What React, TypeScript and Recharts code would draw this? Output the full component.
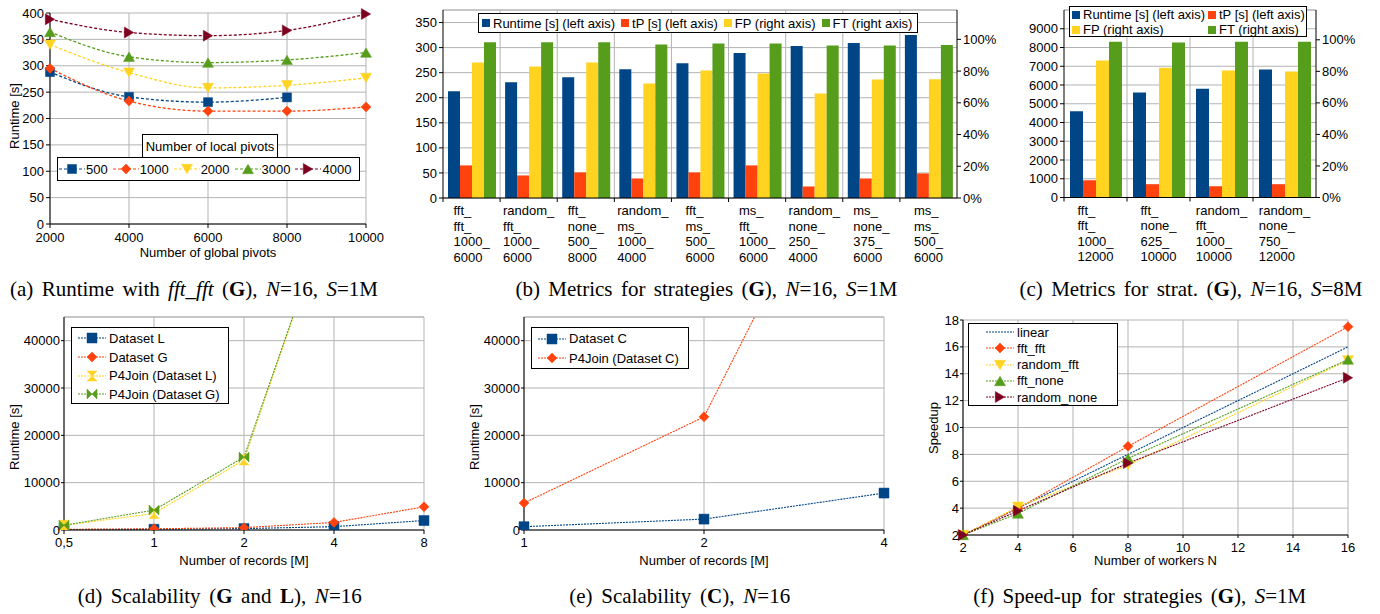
import React from 'react'
import {
  LineChart,
  Line,
  BarChart,
  Bar,
  XAxis,
  YAxis,
  CartesianGrid,
  ReferenceLine,
  Legend,
  Label,
} from 'recharts'

// LibreOffice default palette
const BLUE = '#004586'
const ORANGE = '#ff420e'
const YELLOW = '#ffd320'
const GREEN = '#579d1c'
const MAROON = '#7e0021'
const GRID = '#b3b3b3'
const SANS = '"Liberation Sans", Arial, sans-serif'
const SERIF = '"Liberation Serif", "Times New Roman", serif'
const TICK = { fill: '#000', fontSize: 13 }

// (a) runtime vs. number of global pivots, one series per number of local pivots
const globalPivots = [2000, 4000, 6000, 8000, 10000]
const runtimeTicksA = [0, 50, 100, 150, 200, 250, 300, 350, 400]
const local500 = [288, 241, 231, 240, null]
const local1000 = [295, 233, 214, 214, 222]
const local2000 = [340, 287, 258, 263, 277]
const local3000 = [364, 317, 306, 311, 325]
const local4000 = [388, 363, 357, 367, 398]

// (b) metrics for strategies, S=1M
const strategiesB = [
  'fft_\nfft_\n1000_\n6000',
  'random_\nfft_\n1000_\n6000',
  'fft_\nnone_\n500_\n8000',
  'random_\nms_\n1000_\n4000',
  'fft_\nms_\n500_\n6000',
  'ms_\nfft_\n1000_\n6000',
  'random_\nnone_\n250_\n4000',
  'ms_\nnone_\n375_\n6000',
  'ms_\nms_\n500_\n6000',
]
const runtimeB = [213, 231, 241, 257, 269, 289, 303, 309, 325]
const tpB = [65, 45, 51, 39, 51, 65, 23, 39, 49]
const fpB = [85.4, 82.9, 85.4, 72.2, 80.4, 78.5, 65.9, 74.7, 74.9]
const ftB = [98.1, 98.1, 98.1, 96.8, 97.4, 97.4, 96.2, 96.2, 96.4]
const leftTicksB = [0, 50, 100, 150, 200, 250, 300, 350]
const pctTicks = [0, 20, 40, 60, 80, 100]

// (c) metrics for strategies, S=8M
const strategiesC = [
  'fft_\nfft_\n1000_\n12000',
  'fft_\nnone_\n625_\n10000',
  'random_\nfft_\n1000_\n10000',
  'random_\nnone_\n750_\n12000',
]
const runtimeC = [4600, 5600, 5800, 6830]
const tpC = [920, 710, 600, 710]
const fpC = [86.9, 82.3, 80.6, 79.9]
const ftC = [98.7, 98.3, 98.7, 98.7]
const leftTicksC = [0, 1000, 2000, 3000, 4000, 5000, 6000, 7000, 8000, 9000]

// (d) scalability G and L
const recordsD = ['0,5', '1', '2', '4', '8']
const datasetL = [80, 150, 300, 700, 2000]
const datasetG = [150, 250, 500, 1600, 4900]
const p4joinL = [1000, 3500, 14800, 70000, null]
const p4joinG = [1000, 4200, 15400, 70000, null]
const runtimeTicksD = [0, 10000, 20000, 30000, 40000]

// (e) scalability C
const recordsE = ['1', '2', '4']
const datasetC = [700, 2300, 7800]
const p4joinC = [5700, 23900, 99000]

// (f) speed-up
const workers = [2, 4, 8, 16]
const linearSpeedup = [2, 4, 8, 16]
const fftFft = [2, 4.0, 8.6, 17.5]
const randomFft = [2, 4.1, 7.2, 15.0]
const fftNone = [2, 3.6, 7.7, 15.05]
const randomNone = [2, 3.8, 7.35, 13.7]
const workerTicks = [2, 4, 6, 8, 10, 12, 14, 16]
const speedupTicks = [2, 4, 6, 8, 10, 12, 14, 16, 18]

let ctx: CanvasRenderingContext2D | null = null
function textWidth(s: string, font: string) {
  if (!ctx) ctx = document.createElement('canvas').getContext('2d')
  if (!ctx) return s.length * 7
  ctx.font = font
  return ctx.measureText(s).width
}

function markerPath(shape: string, cx: number, cy: number, s: number) {
  const h = s / 2
  const t = h * 0.85
  switch (shape) {
    case 'square':
      return `M${cx - h},${cy - h}h${s}v${s}h${-s}Z`
    case 'diamond':
      return `M${cx},${cy - h}L${cx + h},${cy}L${cx},${cy + h}L${cx - h},${cy}Z`
    case 'down':
      return `M${cx - h},${cy - t}L${cx + h},${cy - t}L${cx},${cy + t}Z`
    case 'up':
      return `M${cx - h},${cy + t}L${cx + h},${cy + t}L${cx},${cy - t}Z`
    case 'right':
      return `M${cx - t},${cy - h}L${cx + t},${cy}L${cx - t},${cy + h}Z`
    case 'hourglass':
      return `M${cx - h},${cy - h}L${cx + h},${cy - h}L${cx - h},${cy + h}L${cx + h},${cy + h}Z`
    case 'bowtie':
      return `M${cx - h},${cy - h}L${cx + h},${cy + h}L${cx + h},${cy - h}L${cx - h},${cy + h}Z`
    default:
      return ''
  }
}

function Marker(props: any) {
  const { cx, cy, shape, color, size = 10 } = props
  if (cx == null || cy == null || Number.isNaN(cx) || Number.isNaN(cy)) return null
  return <path d={markerPath(shape, cx, cy, size)} fill={color} stroke={color} strokeWidth={0.5} />
}

function LineSymbol({ color, shape, dash, symW, size }: any) {
  return (
    <svg width={symW} height={12} style={{ display: 'block', flex: 'none' }}>
      <line x1={0} x2={symW} y1={6} y2={6} stroke={color} strokeWidth={1.2} strokeDasharray={dash} />
      {shape && <Marker cx={symW / 2} cy={6} shape={shape} color={color} size={size} />}
    </svg>
  )
}

function YTitle({ text, x, y }: any) {
  return (
    <text x={x} y={y} transform={`rotate(-90, ${x}, ${y})`} textAnchor="middle" dominantBaseline="central" fontSize={13} fill="#000">
      {text}
    </text>
  )
}

function CategoryTick(props: any) {
  const { x, y, payload } = props
  const lines = String(payload.value).split('\n')
  const w = Math.max(...lines.map((l) => textWidth(l, `13px ${SANS}`)))
  const half = payload.offset ?? 0
  const left = x - w / 2
  return (
    <g>
      <line x1={x - half} x2={x - half} y1={y - 8} y2={y - 4} stroke="#000" />
      <text x={left} y={y + 9} fill="#000" fontSize={13}>
        {lines.map((l, i) => (
          <tspan key={i} x={left} dy={i === 0 ? 0 : 15.5}>
            {l}
          </tspan>
        ))}
      </text>
    </g>
  )
}

const boxStyle: React.CSSProperties = {
  border: '1px solid #000',
  boxSizing: 'border-box',
  background: '#fff',
  fontSize: 13,
  color: '#000',
  whiteSpace: 'nowrap',
}

// ---------- (a)
const seriesA = [
  { key: 'p500', name: '500', color: BLUE, shape: 'square', size: 9 },
  { key: 'p1000', name: '1000', color: ORANGE, shape: 'diamond', size: 10 },
  { key: 'p2000', name: '2000', color: YELLOW, shape: 'down', size: 11 },
  { key: 'p3000', name: '3000', color: GREEN, shape: 'up', size: 11 },
  { key: 'p4000', name: '4000', color: MAROON, shape: 'right', size: 11 },
]
const dataA = globalPivots.map((gp, i) => ({
  gp,
  p500: local500[i],
  p1000: local1000[i],
  p2000: local2000[i],
  p3000: local3000[i],
  p4000: local4000[i],
}))

function LegendA() {
  return (
    <div style={{ position: 'relative', width: 303, height: 47 }}>
      <div
        style={{
          ...boxStyle,
          position: 'absolute',
          left: 85,
          top: 0,
          width: 136,
          height: 24,
          display: 'flex',
          alignItems: 'center',
          justifyContent: 'center',
        }}
      >
        Number of local pivots
      </div>
      <div
        style={{
          ...boxStyle,
          position: 'absolute',
          left: 0,
          top: 23,
          width: 303,
          height: 24,
          display: 'flex',
          alignItems: 'center',
          paddingLeft: 1,
        }}
      >
        {seriesA.map((s) => (
          <div key={s.key} style={{ display: 'flex', alignItems: 'center', marginRight: 5 }}>
            <LineSymbol color={s.color} shape={s.shape} dash="3 2" symW={26} size={s.size} />
            <span style={{ marginLeft: 1 }}>{s.name}</span>
          </div>
        ))}
      </div>
    </div>
  )
}

function PanelA() {
  return (
    <LineChart width={390} height={270} data={dataA} margin={{ top: 13, right: 24, bottom: 0, left: 10 }}>
      <CartesianGrid stroke={GRID} />
      <XAxis
        dataKey="gp"
        type="number"
        domain={[2000, 10000]}
        ticks={globalPivots}
        interval={0}
        height={46}
        tickSize={4}
        tickMargin={5}
        stroke="#000"
        tick={TICK}
      >
        <Label value="Number of global pivots" position="insideBottom" offset={13} fill="#000" fontSize={13} />
      </XAxis>
      <YAxis domain={[0, 400]} ticks={runtimeTicksA} interval={0} width={40} tickSize={4} tickMargin={2} stroke="#000" tick={TICK}>
        <Label content={() => <YTitle text="Runtime [s]" x={14} y={116} />} />
      </YAxis>
      <Legend
        content={<LegendA />}
        layout="horizontal"
        verticalAlign="middle"
        align="center"
        wrapperStyle={{ left: 57, top: 134, width: 303, height: 47 }}
      />
      {seriesA.map((s) => (
        <Line
          key={s.key}
          type="monotone"
          dataKey={s.key}
          name={s.name}
          stroke={s.color}
          strokeWidth={1.3}
          strokeDasharray="3 2"
          dot={<Marker shape={s.shape} color={s.color} size={s.size} />}
          activeDot={false}
          isAnimationActive={false}
        />
      ))}
    </LineChart>
  )
}

// ---------- (b), (c)
const barSeries = [
  { key: 'runtime', name: 'Runtime [s] (left axis)', color: BLUE, axis: 'left' },
  { key: 'tp', name: 'tP [s] (left axis)', color: ORANGE, axis: 'left' },
  { key: 'fp', name: 'FP (right axis)', color: YELLOW, axis: 'right' },
  { key: 'ft', name: 'FT (right axis)', color: GREEN, axis: 'right' },
]
const dataB = strategiesB.map((name, i) => ({ name, runtime: runtimeB[i], tp: tpB[i], fp: fpB[i], ft: ftB[i] }))
const dataC = strategiesC.map((name, i) => ({ name, runtime: runtimeC[i], tp: tpC[i], fp: fpC[i], ft: ftC[i] }))

function Swatch({ color }: any) {
  return <span style={{ display: 'inline-block', width: 8, height: 8, background: color, marginRight: 3, flex: 'none' }} />
}

function LegendB() {
  return (
    <div style={{ ...boxStyle, width: 440, height: 20, display: 'flex', alignItems: 'center', paddingLeft: 3 }}>
      {barSeries.map((s) => (
        <div key={s.key} style={{ display: 'flex', alignItems: 'center', marginRight: 6 }}>
          <Swatch color={s.color} />
          {s.name}
        </div>
      ))}
    </div>
  )
}

function LegendC() {
  return (
    <div
      style={{
        ...boxStyle,
        width: 238,
        height: 31,
        display: 'grid',
        gridTemplateColumns: '136px auto',
        gridAutoRows: 15,
        alignItems: 'center',
        paddingLeft: 2,
        paddingTop: 0,
      }}
    >
      {barSeries.map((s) => (
        <div key={s.key} style={{ display: 'flex', alignItems: 'center' }}>
          <Swatch color={s.color} />
          {s.name}
        </div>
      ))}
    </div>
  )
}

function MetricsChart({ data, categories, width, leftWidth, rightWidth, leftDomain, leftTicks, rightMax, barSize, xHeight, legend, legendStyle }: any) {
  return (
    <BarChart width={width} height={300} data={data} margin={{ top: 10, right: 0, bottom: 0, left: 0 }}>
      <CartesianGrid vertical={false} yAxisId="left" stroke={GRID} />
      {categories.slice(1).map((c: string) => (
        <ReferenceLine key={c} x={c} position="start" yAxisId="left" stroke={GRID} />
      ))}
      <ReferenceLine y={leftDomain[1]} yAxisId="left" stroke={GRID} />
      <XAxis
        dataKey="name"
        interval={0}
        height={xHeight}
        tickSize={4}
        tickMargin={4}
        tickLine={false}
        stroke="#000"
        tick={<CategoryTick />}
      />
      <YAxis
        yAxisId="left"
        domain={leftDomain}
        ticks={leftTicks}
        interval={0}
        width={leftWidth}
        tickSize={4}
        tickMargin={2}
        stroke="#000"
        tick={TICK}
      />
      <YAxis
        yAxisId="right"
        orientation="right"
        domain={[0, rightMax]}
        ticks={pctTicks}
        interval={0}
        tickFormatter={(v: number) => `${v}%`}
        width={rightWidth}
        tickSize={4}
        tickMargin={2}
        stroke="#000"
        tick={TICK}
      />
      <Legend content={legend} layout="horizontal" verticalAlign="middle" align="center" wrapperStyle={legendStyle} />
      {barSeries.map((s) => (
        <Bar
          key={s.key}
          dataKey={s.key}
          name={s.name}
          yAxisId={s.axis}
          fill={s.color}
          barSize={barSize}
          isAnimationActive={false}
        />
      ))}
    </BarChart>
  )
}

// ---------- (d), (e), (f)
function LineLegend({ items, boxW, boxH, rowH, padTop, padLeft, symW, textGap }: any) {
  return (
    <div style={{ ...boxStyle, width: boxW, height: boxH, paddingTop: padTop, paddingLeft: padLeft }}>
      {items.map((s: any) => (
        <div key={s.key} style={{ display: 'flex', alignItems: 'center', height: rowH }}>
          <LineSymbol color={s.color} shape={s.shape} dash="2 1" symW={symW} size={s.size} />
          <span style={{ marginLeft: textGap }}>{s.name}</span>
        </div>
      ))}
    </div>
  )
}

const seriesD = [
  { key: 'dl', name: 'Dataset L', color: BLUE, shape: 'square', size: 10 },
  { key: 'dg', name: 'Dataset G', color: ORANGE, shape: 'diamond', size: 10 },
  { key: 'pl', name: 'P4Join (Dataset L)', color: YELLOW, shape: 'hourglass', size: 10 },
  { key: 'pg', name: 'P4Join (Dataset G)', color: GREEN, shape: 'bowtie', size: 10 },
]
const dataD = recordsD.map((r, i) => ({ r, dl: datasetL[i], dg: datasetG[i], pl: p4joinL[i], pg: p4joinG[i] }))

const seriesE = [
  { key: 'dc', name: 'Dataset C', color: BLUE, shape: 'square', size: 10 },
  { key: 'pc', name: 'P4Join (Dataset C)', color: ORANGE, shape: 'diamond', size: 10 },
]
const dataE = recordsE.map((r, i) => ({ r, dc: datasetC[i], pc: p4joinC[i] }))

const seriesF = [
  { key: 'lin', name: 'linear', color: BLUE, shape: null, size: 0 },
  { key: 'ff', name: 'fft_fft', color: ORANGE, shape: 'diamond', size: 10 },
  { key: 'rf', name: 'random_fft', color: YELLOW, shape: 'down', size: 11 },
  { key: 'fn', name: 'fft_none', color: GREEN, shape: 'up', size: 11 },
  { key: 'rn', name: 'random_none', color: MAROON, shape: 'right', size: 11 },
]
const dataF = workers.map((n, i) => ({
  n,
  lin: linearSpeedup[i],
  ff: fftFft[i],
  rf: randomFft[i],
  fn: fftNone[i],
  rn: randomNone[i],
}))

function dottedLines(series: any[], type: string) {
  return series.map((s) => (
    <Line
      key={s.key}
      type={type as any}
      dataKey={s.key}
      name={s.name}
      stroke={s.color}
      strokeWidth={1.1}
      strokeDasharray="2 1"
      dot={s.shape ? <Marker shape={s.shape} color={s.color} size={s.size} /> : false}
      activeDot={false}
      isAnimationActive={false}
    />
  ))
}

function ScalabilityChart({ data, series, legendHeight, rowH }: any) {
  return (
    <LineChart width={460} height={280} data={data} margin={{ top: 17, right: 36, bottom: 0, left: 0 }}>
      <CartesianGrid stroke={GRID} />
      <ReferenceLine y={45000} stroke={GRID} />
      <XAxis dataKey="r" interval={0} height={50} tickSize={4} tickMargin={4} stroke="#000" tick={TICK}>
        <Label value="Number of records [M]" position="insideBottom" offset={15} fill="#000" fontSize={13} />
      </XAxis>
      <YAxis
        domain={[0, 45000]}
        allowDataOverflow
        ticks={runtimeTicksD}
        interval={0}
        width={64}
        tickSize={3}
        tickMargin={1}
        stroke="#000"
        tick={TICK}
      >
        <Label content={() => <YTitle text="Runtime [s]" x={14.5} y={137} />} />
      </YAxis>
      <Legend
        content={
          <LineLegend items={series} boxW={158} boxH={legendHeight} rowH={rowH} padTop={1} padLeft={6} symW={28} textGap={3} />
        }
        layout="horizontal"
        verticalAlign="middle"
        align="center"
        wrapperStyle={{ left: 71, top: 27, width: 158, height: legendHeight }}
      />
      {dottedLines(series, 'linear')}
    </LineChart>
  )
}

function PanelF() {
  return (
    <LineChart width={460} height={280} data={dataF} margin={{ top: 20, right: 32, bottom: 0, left: 0 }}>
      <CartesianGrid stroke={GRID} />
      <XAxis
        dataKey="n"
        type="number"
        domain={[2, 16]}
        ticks={workerTicks}
        interval={0}
        height={45}
        tickSize={3}
        tickMargin={5}
        stroke="#000"
        tick={TICK}
      >
        <Label value="Number of workers N" position="insideBottom" offset={15} fill="#000" fontSize={13} />
      </XAxis>
      <YAxis domain={[2, 18]} ticks={speedupTicks} interval={0} width={43} tickSize={3} tickMargin={1} stroke="#000" tick={TICK}>
        <Label content={() => <YTitle text="Speedup" x={13.5} y={128} />} />
      </YAxis>
      <Legend
        content={
          <LineLegend items={seriesF} boxW={150} boxH={83} rowH={16.25} padTop={0} padLeft={17} symW={28} textGap={3} />
        }
        layout="horizontal"
        verticalAlign="middle"
        align="center"
        wrapperStyle={{ left: 48, top: 23, width: 150, height: 83 }}
      />
      {dottedLines(seriesF, 'linear')}
    </LineChart>
  )
}

// ---------- captions
const captions = [
  {
    cx: 194, y: 296, width: 368,
    parts: [{ t: '(a) Runtime with ' }, { t: 'fft_fft', i: true }, { t: ' (' }, { t: 'G', b: true }, { t: '), ' }, { t: 'N', i: true }, { t: '=16, ' }, { t: 'S', i: true }, { t: '=1M' }],
  },
  {
    cx: 706.5, y: 296, width: 382,
    parts: [{ t: '(b) Metrics for strategies (' }, { t: 'G', b: true }, { t: '), ' }, { t: 'N', i: true }, { t: '=16, ' }, { t: 'S', i: true }, { t: '=1M' }],
  },
  {
    cx: 1191, y: 296, width: 343,
    parts: [{ t: '(c) Metrics for strat. (' }, { t: 'G', b: true }, { t: '), ' }, { t: 'N', i: true }, { t: '=16, ' }, { t: 'S', i: true }, { t: '=8M' }],
  },
  {
    cx: 219.7, y: 603, width: 284,
    parts: [{ t: '(d) Scalability (' }, { t: 'G', b: true }, { t: ' and ' }, { t: 'L', b: true }, { t: '), ' }, { t: 'N', i: true }, { t: '=16' }],
  },
  {
    cx: 679.7, y: 603, width: 221,
    parts: [{ t: '(e) Scalability (' }, { t: 'C', b: true }, { t: '), ' }, { t: 'N', i: true }, { t: '=16' }],
  },
  {
    cx: 1139.7, y: 603, width: 333,
    parts: [{ t: '(f) Speed-up for strategies (' }, { t: 'G', b: true }, { t: '), ' }, { t: 'S', i: true }, { t: '=1M' }],
  },
]

function Caption({ parts, cx, y, width }: any) {
  const natural = parts.reduce(
    (s: number, p: any) => s + textWidth(p.t, `${p.i ? 'italic ' : ''}${p.b ? 'bold ' : ''}21px ${SERIF}`),
    0,
  )
  const spaces = parts.reduce((n: number, p: any) => n + (p.t.match(/ /g) || []).length, 0)
  const ws = spaces ? Math.max(0, (width - natural) / spaces) : 0
  return (
    <text x={cx} y={y} textAnchor="middle" fontFamily={SERIF} fontSize={21} fill="#000" style={{ wordSpacing: `${ws}px` }}>
      {parts.map((p: any, i: number) => (
        <tspan key={i} fontStyle={p.i ? 'italic' : undefined} fontWeight={p.b ? 'bold' : undefined}>
          {p.t}
        </tspan>
      ))}
    </text>
  )
}

export default function App() {
  return (
    <div
      style={{
        position: 'absolute',
        left: 0,
        top: 0,
        width: 1380,
        height: 614,
        background: '#fff',
        fontFamily: SANS,
        fontSize: 13,
        overflow: 'hidden',
      }}
    >
      <div style={{ position: 'absolute', left: 0, top: 0 }}>
        <PanelA />
      </div>
      <div style={{ position: 'absolute', left: 400, top: 0 }}>
        <MetricsChart
          data={dataB}
          categories={strategiesB}
          width={600}
          leftWidth={43}
          rightWidth={43}
          leftDomain={[0, 375]}
          leftTicks={leftTicksB}
          rightMax={118.5}
          barSize={12}
          xHeight={102}
          legend={<LegendB />}
          legendStyle={{ left: 78, top: 13, width: 440, height: 20 }}
        />
      </div>
      <div style={{ position: 'absolute', left: 1000, top: 0 }}>
        <MetricsChart
          data={dataC}
          categories={strategiesC}
          width={380}
          leftWidth={64}
          rightWidth={64}
          leftDomain={[0, 10000]}
          leftTicks={leftTicksC}
          rightMax={118.9}
          barSize={13}
          xHeight={102.5}
          legend={<LegendC />}
          legendStyle={{ left: 69, top: 6, width: 238, height: 31 }}
        />
      </div>
      <div style={{ position: 'absolute', left: 0, top: 300 }}>
        <ScalabilityChart data={dataD} series={seriesD} legendHeight={77} rowH={18.7} />
      </div>
      <div style={{ position: 'absolute', left: 460, top: 300 }}>
        <ScalabilityChart data={dataE} series={seriesE} legendHeight={42} rowH={19.5} />
      </div>
      <div style={{ position: 'absolute', left: 920, top: 300 }}>
        <PanelF />
      </div>
      <svg width={1380} height={614} style={{ position: 'absolute', left: 0, top: 0, pointerEvents: 'none' }}>
        {captions.map((c, i) => (
          <Caption key={i} {...c} />
        ))}
      </svg>
    </div>
  )
}
